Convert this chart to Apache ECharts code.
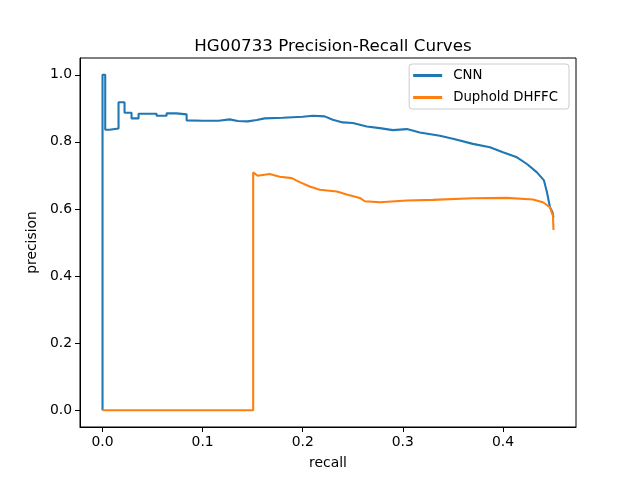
<!DOCTYPE html>
<html><head><meta charset="utf-8">
<script src="https://cdn.jsdelivr.net/npm/echarts@6/dist/echarts.min.js"></script>
<style>html,body{margin:0;padding:0;background:#fff}#c{width:640px;height:480px}</style>
</head><body><div id="c"></div>
<script>
const titleText = "HG00733 Precision-Recall Curves";
const seriesNames = ["CNN", "Duphold DHFFC"];
const xTicks = [0, 0.1, 0.2, 0.3, 0.4];
const yTicks = [0, 0.2, 0.4, 0.6, 0.8, 1.0];
const cnnCurve = [[0,0],[0,1.0],[0.0027,1.0],[0.0027,0.836],[0.007,0.836],[0.007,0.840],[0.016,0.840],[0.016,0.918],[0.022,0.918],[0.022,0.887],[0.029,0.887],[0.029,0.870],[0.036,0.870],[0.036,0.884],[0.054,0.884],[0.054,0.878],[0.064,0.878],[0.064,0.885],[0.074,0.885],[0.074,0.882],[0.084,0.882],[0.084,0.864],[0.1,0.863],[0.116,0.863],[0.116,0.867],[0.127,0.867],[0.127,0.864],[0.135,0.862],[0.145,0.861],[0.154,0.865],[0.162,0.870],[0.18,0.872],[0.2,0.875],[0.21,0.878],[0.222,0.876],[0.23,0.866],[0.24,0.858],[0.25,0.856],[0.264,0.846],[0.277,0.841],[0.29,0.835],[0.304,0.838],[0.317,0.828],[0.337,0.818],[0.35,0.809],[0.37,0.794],[0.387,0.784],[0.4,0.769],[0.414,0.754],[0.424,0.734],[0.434,0.709],[0.441,0.685],[0.444,0.65],[0.447,0.605],[0.4495,0.59],[0.4505,0.575]];
const dupholdCurve = [[0,0],[0.1505,0],[0.1505,0.709],[0.155,0.699],[0.167,0.704],[0.177,0.696],[0.189,0.692],[0.197,0.680],[0.207,0.667],[0.217,0.657],[0.234,0.652],[0.244,0.643],[0.257,0.633],[0.262,0.623],[0.277,0.620],[0.304,0.625],[0.33,0.627],[0.37,0.632],[0.404,0.633],[0.43,0.628],[0.44,0.620],[0.447,0.605],[0.450,0.58],[0.4505,0.537]];

const font = "DejaVu Sans";
const chart = echarts.init(document.getElementById('c'), null, {renderer: 'canvas'});
chart.setOption({
  animation: false,
  backgroundColor: '#fff',
  title: {text: titleText, left: 328, top: 33, textAlign: 'center',
    textStyle: {fontFamily: font, fontSize: 16.7, fontWeight: 'normal', color: '#000'}},
  grid: {left: 80, right: 64, top: 58, bottom: 53, show: true, borderColor: '#000', borderWidth: 1, backgroundColor: 'transparent'},
  legend: {
    orient: 'vertical', right: 71, top: 64, itemWidth: 29, itemHeight: 3, itemGap: 9,
    padding: [5, 11, 5, 4], borderColor: '#ccc', borderWidth: 1, borderRadius: 3,
    backgroundColor: 'rgba(255,255,255,0.8)',
    textStyle: {fontFamily: font, fontSize: 13.3, color: '#000', padding: [0,0,0,6]},
    data: seriesNames.map(n => ({name: n, icon: 'rect'}))
  },
  xAxis: {type: 'value', min: -0.0225, max: 0.473, name: 'recall', nameLocation: 'middle', nameGap: 29,
    nameTextStyle: {fontFamily: font, fontSize: 13.9, color: '#000'},
    axisLine: {show: true, onZero: false, lineStyle: {color: '#000', width: 1}},
    axisTick: {show: true, length: 5, customValues: xTicks, lineStyle: {color: '#000'}},
    axisLabel: {customValues: xTicks, fontFamily: font, fontSize: 13.9, color: '#000', margin: 8, formatter: v => v.toFixed(1)},
    splitLine: {show: false}},
  yAxis: {type: 'value', min: -0.05, max: 1.05, name: 'precision', nameLocation: 'middle', nameGap: 35,
    nameTextStyle: {fontFamily: font, fontSize: 13.9, color: '#000'},
    axisLine: {show: true, onZero: false, lineStyle: {color: '#000', width: 1}},
    axisTick: {show: true, length: 5, customValues: yTicks, lineStyle: {color: '#000'}},
    axisLabel: {customValues: yTicks, fontFamily: font, fontSize: 13.9, color: '#000', margin: 8, formatter: v => v.toFixed(1)},
    splitLine: {show: false}},
  series: [
    {name: seriesNames[0], type: 'line', data: cnnCurve, symbol: 'none', color: '#1f77b4', lineStyle: {width: 2.08, color: '#1f77b4'}, z: 2},
    {name: seriesNames[1], type: 'line', data: dupholdCurve, symbol: 'none', color: '#ff7f0e', lineStyle: {width: 2.08, color: '#ff7f0e'}, z: 3}
  ]
});
</script></body></html>
